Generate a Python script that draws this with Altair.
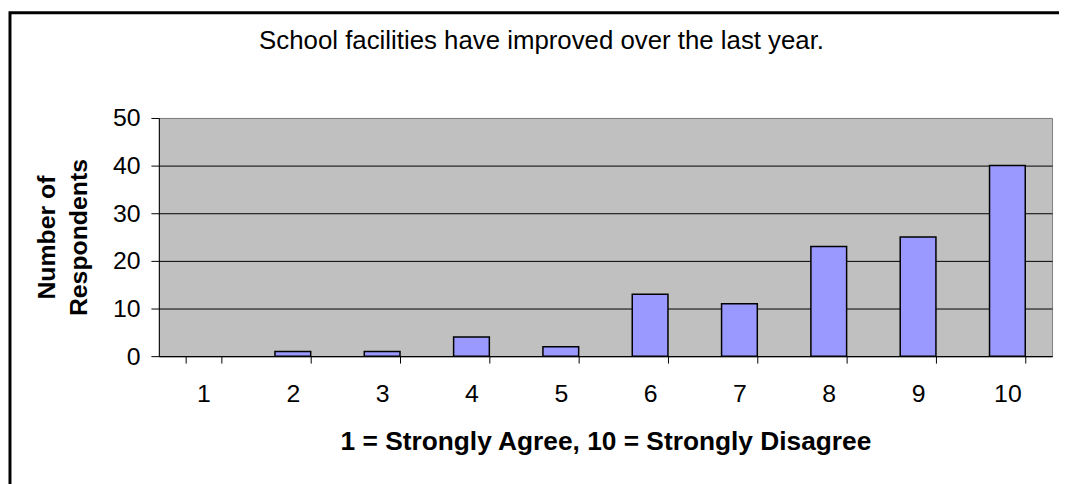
import altair as alt
import pandas as pd

categories = ["1", "2", "3", "4", "5", "6", "7", "8", "9", "10"]
respondents = [0, 1, 1, 4, 2, 13, 11, 23, 25, 40]
y_ticks = [0, 10, 20, 30, 40, 50]
chart_title = "School facilities have improved over the last year."
x_title = "1 = Strongly Agree, 10 = Strongly Disagree"
y_title = ["Number of", "Respondents"]

df = pd.DataFrame({"rating": categories, "count": respondents})
FONT = "Liberation Sans"

bars = alt.Chart(df).transform_filter(
    alt.datum["count"] > 0
).mark_bar(
    fill="#9999FF", stroke="#000000", strokeWidth=1.5
).encode(
    x=alt.X(
        "rating:N",
        sort=categories,
        scale=alt.Scale(domain=categories, paddingInner=0.6, paddingOuter=0.3),
        axis=alt.Axis(
            title=x_title,
            labelAngle=0,
            labelFont=FONT,
            labelFontSize=25,
            labelColor="#000000",
            labelPadding=19,
            labelBaseline="top",
            tickBand="extent",
            tickSize=7,
            tickColor="#000000",
            domainColor="#000000",
            domainWidth=1,
            grid=False,
            titleFont=FONT,
            titleFontSize=26.5,
            titleFontWeight="bold",
            titleColor="#000000",
            titleBaseline="alphabetic",
            titleAnchor="middle",
            titleX=450,
            titleY=94,
        ),
    ),
    y=alt.Y(
        "count:Q",
        scale=alt.Scale(domain=[0, 50], nice=False),
        axis=alt.Axis(
            values=y_ticks,
            title=y_title,
            labelFont=FONT,
            labelFontSize=25,
            labelColor="#000000",
            labelPadding=11,
            tickSize=8,
            tickColor="#000000",
            domainColor="#000000",
            gridColor={
                "condition": {"test": "datum.value >= 50", "value": "#808080"},
                "value": "#000000",
            },
            gridWidth=1,
            titleFont=FONT,
            titleFontSize=25,
            titleFontWeight="bold",
            titleColor="#000000",
            titleAngle=270,
            titleAlign="center",
            titleBaseline="alphabetic",
            titleLineHeight=32,
            titleX=-105,
            titleY=120,
        ),
    ),
)

title_df = pd.DataFrame({"t": [chart_title]})
title_mark = alt.Chart(title_df).mark_text(
    font=FONT, fontSize=26, color="#000000", align="left", baseline="alphabetic"
).encode(
    text="t:N",
    x=alt.value(101),
    y=alt.value(-69),
)

frame_df = pd.DataFrame({"f": [0]})
frame = alt.Chart(frame_df).mark_rect(
    fill="transparent", stroke="#000000", strokeWidth=3
).encode(
    x=alt.value(-150),
    x2=alt.value(930),
    y=alt.value(-106),
    y2=alt.value(400),
)

chart = alt.layer(frame, bars, title_mark).properties(
    width=900,
    height=240,
    padding={"left": 152, "top": 109, "right": 7, "bottom": 127},
    autosize=alt.AutoSizeParams(type="none"),
    background="#FFFFFF",
).configure_view(
    fill="#C0C0C0", stroke="#808080", strokeWidth=1
)

chart.save("out.html", embed_options={"renderer": "svg", "actions": False})
